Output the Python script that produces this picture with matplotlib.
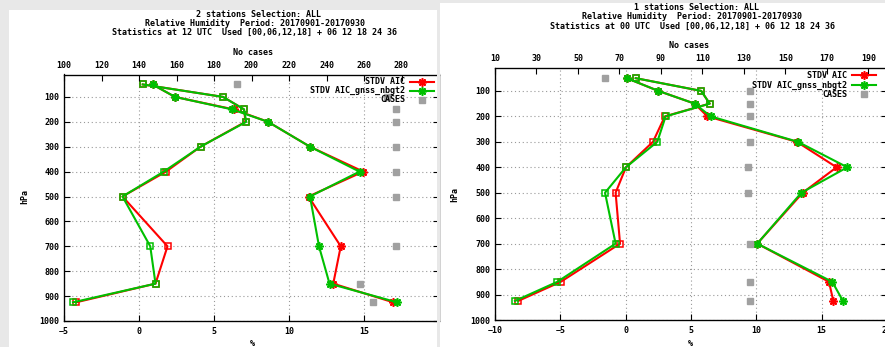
import matplotlib
matplotlib.use('Agg')
import matplotlib.pyplot as plt
from matplotlib.patches import Rectangle
from matplotlib.lines import Line2D

# ---------------- data ----------------
levels = [50, 100, 150, 200, 300, 400, 500, 700, 850, 925]

# left panel: 12 UTC, 2 stations
bias_aic_12 = [0.25, 5.6, 7.0, 7.1, 4.1, 1.8, -1.1, 1.9, 1.1, -4.2]
bias_gnss_12 = [0.25, 5.6, 7.0, 7.15, 4.1, 1.65, -1.1, 0.75, 1.1, -4.4]
stdv_aic_12 = [0.9, 2.4, 6.3, 8.6, 11.4, 14.95, 11.3, 13.45, 12.95, 16.95]
stdv_gnss_12 = [0.9, 2.4, 6.2, 8.6, 11.4, 14.7, 11.4, 12.0, 12.7, 17.2]
cases_12 = [192, 272, 277, 277, 277, 277, 277, 277, 258, 265]

# right panel: 00 UTC, 1 station
bias_aic_00 = [0.77, 5.78, 6.43, 3.0, 2.09, 0.02, -0.77, -0.43, -4.97, -8.22]
bias_gnss_00 = [0.77, 5.78, 6.43, 3.06, 2.42, 0.02, -1.58, -0.77, -5.23, -8.47]
stdv_aic_00 = [0.08, 2.5, 5.28, 6.25, 13.1, 16.14, 13.55, 10.07, 15.56, 15.89]
stdv_gnss_00 = [0.08, 2.5, 5.28, 6.5, 13.18, 16.96, 13.45, 10.07, 15.81, 16.63]
cases_00 = [63, 133, 133, 133, 133, 132, 132, 133, 133, 133]

titles_12 = ["2 stations Selection: ALL",
             "Relative Humidity  Period: 20170901-20170930",
             "Statistics at 12 UTC  Used [00,06,12,18] + 06 12 18 24 36"]
titles_00 = ["1 stations Selection: ALL",
             "Relative Humidity  Period: 20170901-20170930",
             "Statistics at 00 UTC  Used [00,06,12,18] + 06 12 18 24 36"]
legend_labels = ["STDV AIC", "STDV AIC_gnss_nbgt2", "CASES"]

RED = '#ff0000'
GREEN = '#00c000'
GRAY = '#a0a0a0'

plt.rcParams['font.family'] = ['DejaVu Sans Mono']
plt.rcParams['font.weight'] = 'bold'
plt.rcParams['font.size'] = 6

W, H = 885, 347
fig = plt.figure(figsize=(8.85, 3.47), dpi=100, facecolor='#e8e8e8')


def fx(px):
    return px / W


def fy(py):
    return 1 - py / H


# white panel backgrounds
fig.add_artist(Rectangle((fx(9), 0), fx(437) - fx(9), fy(10), transform=fig.transFigure,
                         facecolor='white', edgecolor='none', zorder=-5))
fig.add_artist(Rectangle((fx(440), 0), fx(886) - fx(440), fy(3), transform=fig.transFigure,
                         facecolor='white', edgecolor='none', zorder=-5))

STAR = (8, 2, 0)


def panel(left, right, top, bottom, xlim, xticks, x2lim, x2ticks,
          bias_r, bias_g, stdv_r, stdv_g, cases):
    ax = fig.add_axes([fx(left), fy(bottom), fx(right) - fx(left), fy(top) - fy(bottom)])
    ax.set_facecolor('none')
    ax.set_xlim(*xlim)
    ax.set_ylim(1000, 10)
    ax.set_xticks(xticks)
    ax.set_yticks(list(range(100, 1001, 100)))
    ax.grid(True, linestyle=(0, (1, 2.5)), color='#999999', lw=0.8)
    for b, s, c in ((bias_r, stdv_r, RED), (bias_g, stdv_g, GREEN)):
        ax.plot(b, levels, color=c, lw=1.5, marker='s', ms=4.5, mfc='none', mew=1.1)
        ax.plot(s, levels, color=c, lw=1.5, marker=STAR, ms=6, mew=1.2)
    ax.tick_params(axis='both', direction='in', length=4, width=0.8, top=False, right=True)
    ax.tick_params(axis='x', pad=4.5)
    ax.tick_params(axis='y', pad=3.5)
    for sp in ax.spines.values():
        sp.set_linewidth(0.9)
    ax2 = ax.twiny()
    ax2.set_xlim(*x2lim)
    ax2.set_xticks(x2ticks)
    ax2.plot(cases, levels, linestyle='none', marker='s', ms=4.2, color=GRAY, mec=GRAY)
    ax2.tick_params(axis='x', direction='in', length=4, width=0.8, pad=3.5)
    return ax, ax2


# left panel
panel(64, 439, 74.5, 321, (-5, 20), [-5, 0, 5, 10, 15], (100, 300),
      list(range(100, 281, 20)),
      bias_aic_12, bias_gnss_12, stdv_aic_12, stdv_gnss_12, cases_12)

# right panel
panel(495, 887, 68, 320, (-10, 20), [-10, -5, 0, 5, 10, 15, 20], (10, 199),
      list(range(10, 191, 20)),
      bias_aic_00, bias_gnss_00, stdv_aic_00, stdv_gnss_00, cases_00)

# gray strip between panels (panel crop)
fig.add_artist(Rectangle((fx(437), 0), fx(440) - fx(437), 1, transform=fig.transFigure,
                         facecolor='#e8e8e8', edgecolor='none', zorder=20))

# titles and axis labels
for lines, cx, ys in ((titles_12, [259, 255, 255], [14.3, 24, 32.7]),
                      (titles_00, [697, 692.5, 692.7], [7.3, 16.7, 26])):
    for t, x, y in zip(lines, cx, ys):
        fig.text(fx(x), fy(y), t, ha='center', va='center', zorder=30)

fig.text(fx(252.7), fy(52.3), "No cases", ha='center', va='center')
fig.text(fx(689), fy(46), "No cases", ha='center', va='center')
fig.text(fx(252.7), fy(344), "%", ha='center', va='center')
fig.text(fx(690), fy(344), "%", ha='center', va='center')
fig.text(fx(25), fy(196.7), "hPa", ha='center', va='center', rotation=90)
fig.text(fx(455), fy(194), "hPa", ha='center', va='center', rotation=90)

# legends
def legend(text_right, k1, k2, rows):
    colors = [RED, GREEN, None]
    for lab, c, y in zip(legend_labels, colors, rows):
        fig.text(fx(text_right), fy(y), lab, ha='right', va='center', zorder=25)
        km = (k1 + k2) / 2
        if c is not None:
            fig.add_artist(Line2D([fx(k1), fx(k2)], [fy(y), fy(y)], color=c, lw=1.5,
                                  transform=fig.transFigure, zorder=25))
            fig.add_artist(Line2D([fx(km)], [fy(y)], color=c, marker=STAR, ms=6, mew=1.2,
                                  transform=fig.transFigure, zorder=25))
        else:
            fig.add_artist(Line2D([fx(km)], [fy(y)], color=GRAY, marker='s', ms=4.2,
                                  linestyle='none', transform=fig.transFigure, zorder=25))


legend(405, 409.5, 433.5, [81.7, 90.7, 100])
legend(847.3, 851.7, 876, [75.3, 85, 94.3])

fig.savefig('out.png', dpi=100, facecolor=fig.get_facecolor())
